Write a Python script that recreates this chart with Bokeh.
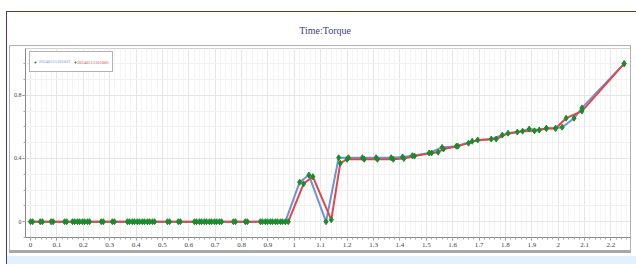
from bokeh.plotting import figure
from bokeh.layouts import column
from bokeh.models import Legend, LegendItem, FixedTicker, Range1d, Label, Spacer
from bokeh.core.properties import value
from bokeh.embed import file_html
from bokeh.resources import INLINE

title_text = "Time:Torque"
series_names = ["20240515101022", "20240515101006"]

s1_x = [0, 0.037, 0.078, 0.129, 0.159, 0.178, 0.197, 0.216, 0.268, 0.31, 0.367, 0.386,
        0.405, 0.424, 0.443, 0.462, 0.519, 0.56, 0.621, 0.64, 0.659, 0.678, 0.697, 0.716,
        0.769, 0.814, 0.871, 0.89, 0.909, 0.928, 0.947, 0.966,
        1.02, 1.055, 1.12, 1.168, 1.205, 1.258, 1.31, 1.367, 1.41, 1.447, 1.511, 1.56,
        1.614, 1.674, 1.746, 1.788, 1.845, 1.89, 1.928, 1.955, 1.99, 2.015, 2.06, 2.09, 2.25]
s1_y = [0] * 32 + [
        0.25, 0.295, 0.0, 0.405, 0.405, 0.405, 0.405, 0.405, 0.41, 0.418, 0.435, 0.47,
        0.478, 0.509, 0.523, 0.548, 0.567, 0.586, 0.58, 0.592, 0.592, 0.598, 0.655, 0.72, 1.0]

s2_x = [0.008, 0.045, 0.086, 0.137, 0.167, 0.186, 0.205, 0.224, 0.276, 0.318, 0.375, 0.394,
        0.413, 0.432, 0.451, 0.47, 0.527, 0.568, 0.629, 0.648, 0.667, 0.686, 0.705, 0.724,
        0.777, 0.822, 0.879, 0.898, 0.917, 0.936, 0.955, 0.977,
        1.035, 1.07, 1.14, 1.174, 1.2, 1.265, 1.315, 1.375, 1.415, 1.455, 1.52, 1.545,
        1.565, 1.62, 1.66, 1.695, 1.765, 1.81, 1.865, 1.91, 1.955, 1.99, 2.03, 2.09, 2.25]
s2_y = [0] * 32 + [
        0.24, 0.285, 0.012, 0.37, 0.395, 0.395, 0.395, 0.395, 0.4, 0.415, 0.435, 0.44,
        0.46, 0.478, 0.497, 0.517, 0.523, 0.56, 0.573, 0.575, 0.59, 0.59, 0.655, 0.70, 1.0]

x_ticks = [0, 0.1, 0.2, 0.3, 0.4, 0.5, 0.6, 0.7, 0.8, 0.9, 1.0, 1.1, 1.2, 1.3, 1.4, 1.5,
           1.6, 1.7, 1.8, 1.9, 2.0, 2.1, 2.2]
x_tick_labels = ["0", "0.1", "0.2", "0.3", "0.4", "0.5", "0.6", "0.7", "0.8", "0.9", "1",
                 "1.1", "1.2", "1.3", "1.4", "1.5", "1.6", "1.7", "1.8", "1.9", "2", "2.1", "2.2"]
y_ticks = [0, 0.4, 0.8]
y_tick_labels = ["0", "0.4", "0.8"]

BLUE = "#6f94d6"
RED = "#e0474c"
GREEN = "#1c8c2a"
FONT = "Liberation Sans Narrow"

# ---- title strip ----
tfig = figure(width=626, height=33, output_backend="svg", toolbar_location=None,
              x_range=Range1d(0, 626), y_range=Range1d(0, 33),
              x_axis_type=None, y_axis_type=None, min_border=0,
              outline_line_color=None, background_fill_color="white",
              border_fill_color="white")
tfig.add_layout(Label(x=311, y=15.5, text=title_text, text_align="center",
                      text_baseline="middle", text_font="Liberation Serif",
                      text_font_size="10px", text_color="#3b3b8a"))

# ---- main chart ----
p = figure(width=622, height=208, output_backend="svg", toolbar_location=None,
           x_range=Range1d(-0.019, 2.274), y_range=Range1d(-0.1, 1.096),
           min_border_left=12, min_border_right=2, min_border_top=2, min_border_bottom=17,
           background_fill_color="white", border_fill_color="white",
           margin=(0, 0, 0, 2),
           styles={"border-top": "1px solid #b0b0b0", "border-left": "1px solid #b0b0b0",
                   "border-right": "1px solid #b0b0b0", "border-bottom": "3px solid #a8a8a8"})
p.outline_line_color = "#d0d0d0"

x_minor = [round(-0.02 + 0.02 * i, 3) for i in range(116)]
p.xaxis.ticker = FixedTicker(ticks=x_ticks, minor_ticks=x_minor)
p.xaxis.major_label_overrides = {t: l for t, l in zip(x_ticks, x_tick_labels)}
y_minor = [round(-0.1 + 0.1 * i, 2) for i in range(12)]
p.yaxis.ticker = FixedTicker(ticks=y_ticks, minor_ticks=y_minor)
p.yaxis.major_label_overrides = {t: l for t, l in zip(y_ticks, y_tick_labels)}

for ax in (p.xaxis[0], p.yaxis[0]):
    ax.axis_line_color = "#888888"
    ax.major_tick_line_color = "#888888"
    ax.minor_tick_line_color = "#aaaaaa"
    ax.major_tick_out = 3
    ax.major_tick_in = 0
    ax.minor_tick_out = 2
    ax.minor_tick_in = 0
    ax.major_label_text_font = FONT
    ax.major_label_text_font_size = "7px"
    ax.major_label_text_color = "#444444"
    ax.major_label_standoff = 2
p.yaxis.major_label_orientation = "horizontal"
p.yaxis.major_label_text_font_size = "6px"
p.yaxis.major_label_standoff = 1

p.xgrid.grid_line_color = "#e6e6e6"
p.ygrid.grid_line_color = "#e6e6e6"
p.xgrid.minor_grid_line_color = "#f4f4f4"
p.ygrid.minor_grid_line_color = "#f0f0f0"

l1 = p.line(s1_x, s1_y, line_color=BLUE, line_width=2)
l2 = p.line(s2_x, s2_y, line_color=RED, line_width=2)
m1 = p.scatter(s1_x, s1_y, marker="diamond", size=6, fill_color=GREEN, line_color=GREEN)
m2 = p.scatter(s2_x, s2_y, marker="diamond", size=6, fill_color=GREEN, line_color=GREEN)
d2 = p.scatter([], [], marker="diamond", size=6, alpha=0)

common = dict(orientation="horizontal", glyph_width=4, glyph_height=8, label_standoff=2,
              padding=3, spacing=2, margin=0, label_text_font=FONT,
              label_text_font_size="4.5px", label_height=13, label_width=30)

leg_box = Legend(items=[LegendItem(label=value(series_names[0]), renderers=[m1]),
                        LegendItem(label=value(" "), renderers=[m2])],
                 location=(4, 165), border_line_color="#666666", border_line_width=1,
                 background_fill_color="white", background_fill_alpha=1,
                 label_text_color=BLUE, **common)
leg_b = Legend(items=[LegendItem(label=value(series_names[1]), renderers=[d2])],
               location=(43, 165), border_line_alpha=0, background_fill_alpha=0,
               label_text_color=RED, **common)
p.add_layout(leg_box)
p.add_layout(leg_b)

strip = Spacer(width=630, height=8, margin=(3, 0, 0, 0),
               styles={"background-color": "#e2f1fb"})

page = column(tfig, p, strip, margin=(11, 0, 0, 6), spacing=0,
              styles={"border-top": "1.5px solid #3b3b8a",
                      "border-left": "1.5px solid #3b3b8a",
                      "background-color": "white"})

open("out.html", "w").write(file_html(page, INLINE))
